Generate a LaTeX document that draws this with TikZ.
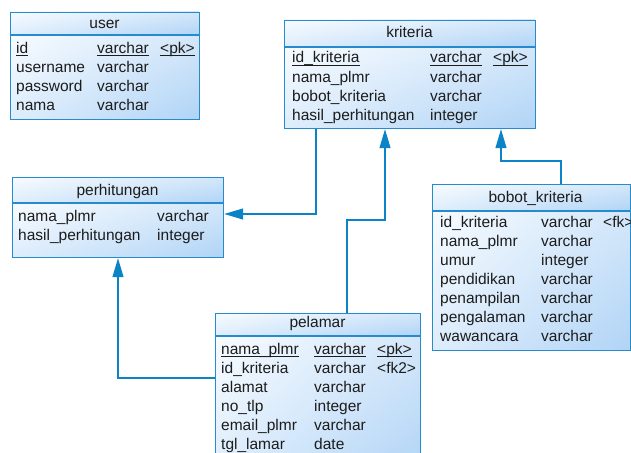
\documentclass[tikz,border=0pt]{standalone}
\usepackage{fontspec}
\setmainfont{Liberation Sans}
\usetikzlibrary{arrows.meta,shadings}

\definecolor{erborder}{RGB}{38,139,204}
\definecolor{erlink}{RGB}{10,132,199}
\definecolor{ertext}{RGB}{28,28,28}
\definecolor{shadeA}{RGB}{247,251,255}
\definecolor{shadeB}{RGB}{212,231,250}
\definecolor{shadeC}{RGB}{222,237,252}
\definecolor{shadeD}{RGB}{176,212,246}

\tikzset{
  sec/.style={upper left=shadeA, upper right=shadeB, lower left=shadeC, lower right=shadeD},
  tablebox/.style={draw=erborder, line width=1.2pt, rectangle, inner sep=0pt, anchor=north west},
  rule/.style={draw=erborder, line width=1.2pt},
  ftxt/.style={anchor=base west, inner sep=0pt, text=ertext, font=\fontsize{15.5}{18}\selectfont},
  ttxt/.style={anchor=base, inner sep=0pt, text=ertext, font=\fontsize{15.5}{18}\selectfont},
  uline/.style={draw=ertext, line width=0.8pt},
  conn/.style={draw=erlink, line width=1.3pt, -{Triangle[length=19pt,width=11pt]}},
}

% table: name, x, y, width, height, y of the header rule, title x, title baseline, title
\newcommand\ertable[9]{%
  \shade[sec] (#2,#3) rectangle (#2+#4,#6);
  \shade[sec] (#2,#6) rectangle (#2+#4,#3+#5);
  \node[tablebox, minimum width=#4pt, minimum height=#5pt] (#1) at (#2,#3) {};
  \draw[rule] (#1.west |- 0,#6) -- (#1.east |- 0,#6);
  \node[ttxt] (#1-title) at (#7,#8) {#9};
}
% plain and underlined column entries
\newcommand\fld[4]{\node[ftxt] (#1) at (#2,#3) {#4};}
\newcommand\ufld[4]{\node[ftxt] (#1) at (#2,#3) {#4};
  \draw[uline] ([yshift=-2pt]#1.base west) -- ([yshift=-2pt]#1.base east);}

\begin{document}
\begin{tikzpicture}[x=1pt, y=-1pt]
\useasboundingbox (0,0) rectangle (631,452);
\clip (0,0) rectangle (631,452);

% user
\ertable{user}{10}{12}{189}{107}{35}{104.5}{28.5}{user}
\ufld{u1a}{16}{53.5}{id}      \ufld{u1b}{97}{53.5}{varchar} \ufld{u1c}{160}{53.5}{<pk>}
\fld{u2a}{16}{72.5}{username} \fld{u2b}{97}{72.5}{varchar}
\fld{u3a}{16}{91.5}{password} \fld{u3b}{97}{91.5}{varchar}
\fld{u4a}{16}{110.5}{nama}    \fld{u4b}{97}{110.5}{varchar}

% kriteria
\ertable{kriteria}{284}{20}{251}{108}{47}{409.5}{37.5}{kriteria}
\ufld{k1a}{292}{63}{id\_kriteria}        \ufld{k1b}{430}{63}{varchar} \ufld{k1c}{493}{63}{<pk>}
\fld{k2a}{292}{82}{nama\_plmr}          \fld{k2b}{430}{82}{varchar}
\fld{k3a}{292}{101}{bobot\_kriteria}    \fld{k3b}{430}{101}{varchar}
\fld{k4a}{292}{120}{hasil\_perhitungan} \fld{k4b}{430}{120}{integer}

% perhitungan
\ertable{perhitungan}{12}{177}{211}{80}{203}{117.5}{195}{perhitungan}
\fld{p1a}{18}{221}{nama\_plmr}          \fld{p1b}{157}{221}{varchar}
\fld{p2a}{18}{240.5}{hasil\_perhitungan} \fld{p2b}{157}{240.5}{integer}

% bobot_kriteria
\ertable{bobot}{432}{184}{198}{166}{211}{535.5}{202}{bobot\_kriteria}
\fld{b1a}{440}{227}{id\_kriteria} \fld{b1b}{541}{227}{varchar} \fld{b1c}{603}{227}{<fk>}
\fld{b2a}{440}{246}{nama\_plmr}   \fld{b2b}{541}{246}{varchar}
\fld{b3a}{440}{265}{umur}         \fld{b3b}{541}{265}{integer}
\fld{b4a}{440}{284}{pendidikan}   \fld{b4b}{541}{284}{varchar}
\fld{b5a}{440}{303}{penampilan}   \fld{b5b}{541}{303}{varchar}
\fld{b6a}{440}{322}{pengalaman}   \fld{b6b}{541}{322}{varchar}
\fld{b7a}{440}{341}{wawancara}    \fld{b7b}{541}{341}{varchar}

% pelamar
\ertable{pelamar}{215}{313}{205}{160}{336}{317.5}{327}{pelamar}
\ufld{m1a}{221}{354.5}{nama\_plmr} \ufld{m1b}{314}{354.5}{varchar} \ufld{m1c}{377}{354.5}{<pk>}
\fld{m2a}{221}{373.5}{id\_kriteria} \fld{m2b}{314}{373.5}{varchar} \fld{m2c}{377}{373.5}{<fk2>}
\fld{m3a}{221}{392.5}{alamat}       \fld{m3b}{314}{392.5}{varchar}
\fld{m4a}{221}{411.5}{no\_tlp}      \fld{m4b}{314}{411.5}{integer}
\fld{m5a}{221}{430.5}{email\_plmr}  \fld{m5b}{314}{430.5}{varchar}
\fld{m6a}{221}{449.5}{tgl\_lamar}   \fld{m6b}{314}{449.5}{date}

% references
\draw[conn] (kriteria.south -| 316,0) |- (perhitungan.east |- 0,214);
\draw[conn] (pelamar.north -| 347,0) -- (347,220) -| (kriteria.south -| 385,0);
\draw[conn] (bobot.north -| 561,0) -- (561,161) -| (kriteria.south -| 501,0);
\draw[conn] (pelamar.west |- 0,378) -| (perhitungan.south -| 118,0);
\end{tikzpicture}
\end{document}
